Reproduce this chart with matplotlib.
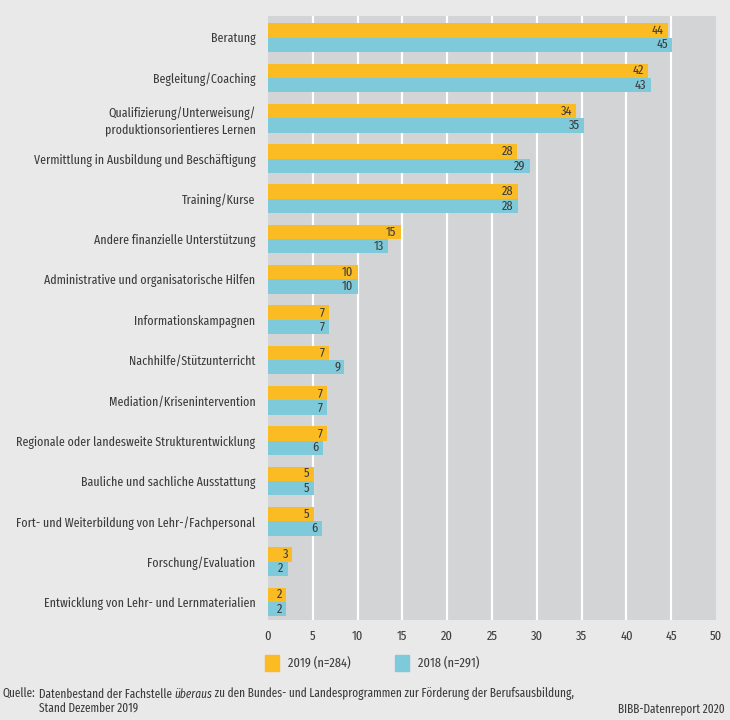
import matplotlib
matplotlib.use("Agg")
import matplotlib.pyplot as plt
from matplotlib.patches import Patch
import numpy as np

plt.rcParams['font.family'] = ['Fira Sans Extra Condensed', 'DejaVu Sans']

categories = [
    "Beratung",
    "Begleitung/Coaching",
    "Qualifizierung/Unterweisung/\nproduktionsorientieres Lernen",
    "Vermittlung in Ausbildung und Beschäftigung",
    "Training/Kurse",
    "Andere finanzielle Unterstützung",
    "Administrative und organisatorische Hilfen",
    "Informationskampagnen",
    "Nachhilfe/Stützunterricht",
    "Mediation/Krisenintervention",
    "Regionale oder landesweite Strukturentwicklung",
    "Bauliche und sachliche Ausstattung",
    "Fort- und Weiterbildung von Lehr-/Fachpersonal",
    "Forschung/Evaluation",
    "Entwicklung von Lehr- und Lernmaterialien",
]
# bar lengths (labels are the rounded values)
values_2019 = [44.6, 42.4, 34.4, 27.8, 27.9, 14.8, 10.0, 6.8, 6.8, 6.6, 6.6, 5.1, 5.1, 2.7, 2.0]
values_2018 = [45.1, 42.7, 35.3, 29.2, 27.9, 13.4, 10.0, 6.8, 8.5, 6.6, 6.1, 5.1, 6.0, 2.2, 2.0]
labels_2019 = [44, 42, 34, 28, 28, 15, 10, 7, 7, 7, 7, 5, 5, 3, 2]
labels_2018 = [45, 43, 35, 29, 28, 13, 10, 7, 9, 7, 6, 5, 6, 2, 2]
series_names = ["2019 (n=284)", "2018 (n=291)"]
xticks = [0, 5, 10, 15, 20, 25, 30, 35, 40, 45, 50]

bg = "#e9e9ea"
plot_bg = "#d3d4d6"
orange = "#fbbb22"
blue = "#7ecada"
txt = "#3c3c3c"
fs = 9.3

fig = plt.figure(figsize=(7.3, 7.2), dpi=100, facecolor=bg)
W, H = 730, 720
ax = fig.add_axes([268 / W, 1 - 620 / H, (716 - 268) / W, (620 - 15.7) / H])
ax.set_facecolor(plot_bg)

y = np.arange(len(categories))
h = 0.355
off = h / 2
ax.barh(y - off, values_2019, height=h, color=orange, zorder=3)
ax.barh(y + off, values_2018, height=h, color=blue, zorder=3)

for i in range(len(categories)):
    ax.text(values_2019[i] - 0.45, y[i] - off, str(labels_2019[i]), ha="right", va="center",
            fontsize=9.7, color=txt, zorder=4)
    ax.text(values_2018[i] - 0.45, y[i] + off, str(labels_2018[i]), ha="right", va="center",
            fontsize=9.7, color=txt, zorder=4)

ax.set_xlim(0, 50)
ax.set_ylim(14.45, -0.543)
ax.set_xticks(xticks)
ax.set_xticklabels([str(t) for t in xticks], fontsize=9.7, color=txt)
ax.set_yticks(y)
ax.set_yticklabels(categories, fontsize=fs, color=txt, linespacing=1.3)
ax.tick_params(length=0, pad=9)
ax.tick_params(axis="x", pad=7)
for s in ax.spines.values():
    s.set_visible(False)
for t in xticks[1:-1]:
    ax.axvline(t, color="white", lw=1.6, zorder=1)

handles = [Patch(color=orange), Patch(color=blue)]
fig.legend(handles, series_names, loc="center left", bbox_to_anchor=(253 / W, 1 - 663 / H),
           ncol=2, frameon=False, fontsize=9.7, handlelength=1.0, handleheight=1.4,
           handletextpad=0.7, columnspacing=3.3, labelcolor=txt)

# source line with italic word, pieces placed one after another
renderer = fig.canvas.get_renderer()
sfs = 8.9
q = fig.text(3 / W, 1 - 694 / H, "Quelle:", fontsize=sfs, color=txt, va="center")
indent = 3 + q.get_window_extent(renderer).width + 3
xpos = indent
for piece, style in [("Datenbestand der Fachstelle ", "normal"), ("überaus", "italic"),
                     (" zu den Bundes- und Landesprogrammen zur Förderung der Berufsausbildung,", "normal")]:
    t = fig.text(xpos / W, 1 - 694 / H, piece, fontsize=sfs, color=txt, va="center", style=style)
    xpos += t.get_window_extent(renderer).width
fig.text(indent / W, 1 - 709 / H, "Stand Dezember 2019", fontsize=sfs, color=txt, va="center")
fig.text(725 / W, 1 - 709 / H, "BIBB-Datenreport 2020", fontsize=sfs, color=txt, va="center", ha="right")

fig.savefig("out.png", dpi=100, facecolor=bg)
